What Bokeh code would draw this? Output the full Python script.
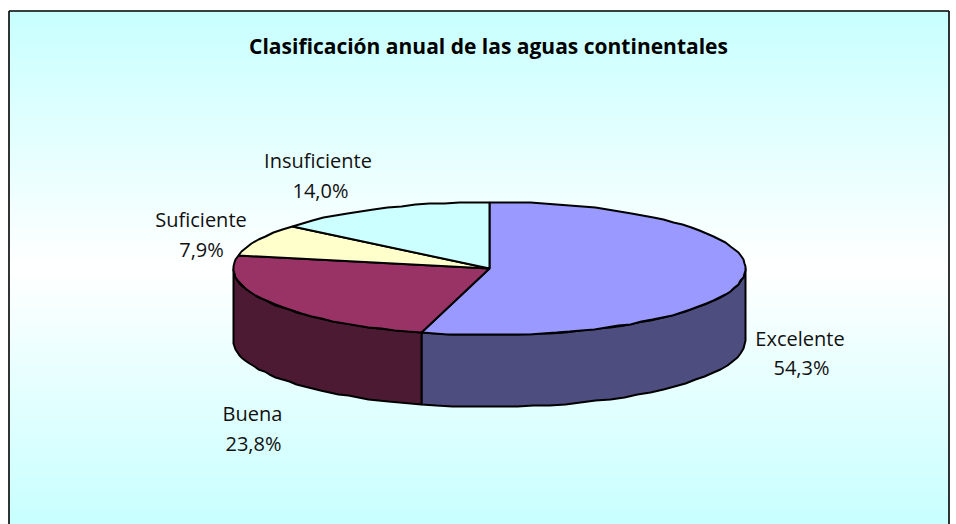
import numpy as np
from bokeh.plotting import figure
from bokeh.embed import file_html
from bokeh.resources import INLINE
from bokeh.core.properties import value
from bokeh.models import Range1d

categories = ["Excelente", "Buena", "Suficiente", "Insuficiente"]
shares = [54.3, 23.8, 7.9, 14.0]
share_labels = ["54,3%", "23,8%", "7,9%", "14,0%"]
top_colors = ["#9999FF", "#993366", "#FFFFCC", "#CCFFFF"]
side_colors = ["#4D4D80", "#4D1A33", "#807F66", "#668080"]
title_text = "Clasificación anual de las aguas continentales"

W, H = 956, 524
CX, CY, RX, RY, DEPTH = 489, 268, 256, 66.5, 72
FRAME_L, FRAME_T, FRAME_R, FRAME_B = 8.5, 10.5, 948.5, 540
name_x = [799.5, 252, 200.5, 317.5]
name_y = [338, 413, 219, 159.5]
pct_x = [801, 253, 201, 320]
pct_y = [367, 443, 249, 189.5]

p = figure(width=W, height=H, output_backend="svg", toolbar_location=None,
           x_range=Range1d(0, W), y_range=Range1d(H, 0),
           min_border=0, outline_line_color=None, background_fill_color="white",
           border_fill_color="white")
p.axis.visible = False
p.grid.visible = False

# gradient background
ys = np.arange(FRAME_T, H + 1)
mid = 267.0
t = np.clip(np.abs(ys - mid) / (mid - FRAME_T), 0, 1)
cols = ["#%02XFFFF" % int(round(255 + (0xC8 - 255) * v)) for v in t]
p.quad(left=FRAME_L, right=FRAME_R, top=ys, bottom=ys + 1, fill_color=cols, line_color=None)

def pt(theta, dy=0.0):
    return np.round(CX + RX * np.sin(theta)), np.round(CY - RY * np.cos(theta) + dy)

edges = np.radians(np.concatenate([[0], np.cumsum(shares)]) * 3.6)

# side walls (visible front half only)
for i in range(len(shares)):
    a, b = max(edges[i], np.pi / 2), min(edges[i + 1], 3 * np.pi / 2)
    if b <= a:
        continue
    th = np.linspace(a, b, 30)
    x1, y1 = pt(th)
    x2, y2 = pt(th[::-1], DEPTH)
    p.patch(np.r_[x1, x2], np.r_[y1, y2], fill_color=side_colors[i],
            line_color="black", line_width=2)

# top slices
for i in range(len(shares)):
    th = np.linspace(edges[i], edges[i + 1], max(int(shares[i] * 1.2), 8))
    x, y = pt(th)
    p.patch(np.r_[CX, x], np.r_[CY, y], fill_color=top_colors[i],
            line_color="black", line_width=2)

# frame
p.line([FRAME_L, FRAME_L], [FRAME_B, FRAME_T], line_color="black", line_width=1.6)
p.line([FRAME_L, FRAME_R], [FRAME_T, FRAME_T], line_color="black", line_width=1.6)
p.line([FRAME_R, FRAME_R], [FRAME_T, FRAME_B], line_color="black", line_width=1.6)

# labels
font = value("Open Sans")
p.text(name_x, name_y, text=categories, text_font=font, text_font_size="20px",
       text_align="center", text_baseline="middle", text_color="#111111")
p.text(pct_x, pct_y, text=share_labels, text_font=font, text_font_size="20px",
       text_align="center", text_baseline="middle", text_color="#111111")

p.text([488], [45], text=[title_text], text_font=font, text_font_size="21px",
       text_font_style="bold", text_align="center", text_baseline="middle", text_color="black")

open("out.html", "w").write(file_html(p, INLINE))
